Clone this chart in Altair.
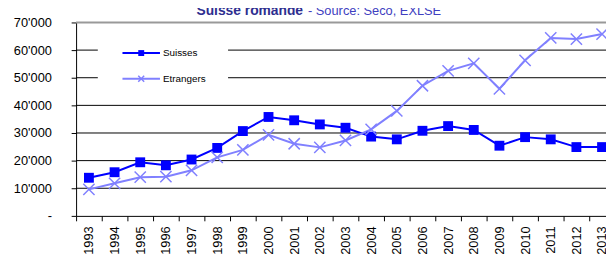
import altair as alt
import pandas as pd

years = list(range(1993, 2014))
suisses = [13800, 15800, 19400, 18300, 20400, 24600, 30700, 35800, 34600, 33100,
           31900, 28700, 27700, 30800, 32500, 31100, 25400, 28500, 27700, 24900, 24900]
etrangers = [9600, 11800, 14000, 14200, 16500, 21200, 23900, 29300, 26100, 24800,
             27300, 31300, 38000, 47100, 52500, 55200, 46000, 56300, 64400, 64000, 65800]
series = ["Suisses", "Etrangers"]
colors = ["#0000FF", "#8080FF"]
y_ticks = [0, 10000, 20000, 30000, 40000, 50000, 60000, 70000]
title_main = "Suisse romande"
title_source = "- Source: Seco, EXLSE"

df = pd.DataFrame({
    "year": years * 2,
    "value": suisses + etrangers,
    "series": [series[0]] * len(years) + [series[1]] * len(years),
})

W, H = 537, 196
STEP = 26
FONT = "Liberation Sans"

x_enc = alt.X(
    "year:Q",
    scale=alt.Scale(domain=[years[0] - 0.5, years[0] - 0.5 + W / STEP], nice=False, zero=False),
    axis=alt.Axis(
        values=[y - 0.5 for y in years],
        labelExpr="format(datum.value + 0.5, 'd')",
        labelOffset=STEP / 2,
        labelAngle=270, labelAlign="right", labelBaseline="middle",
        labelPadding=5, labelFontSize=13, labelFont=FONT, labelColor="black",
        labelOverlap=False, labelFlush=False,
        tickSize=5, tickColor="black", domainColor="black", grid=False, title=None,
    ),
)
y_enc = alt.Y(
    "value:Q",
    scale=alt.Scale(domain=[0, 70000], nice=False),
    axis=alt.Axis(
        values=y_ticks,
        labelExpr="datum.value == 0 ? '-' : replace(format(datum.value, ','), ',', \"'\")",
        labelPadding=20, labelFontSize=13, labelFont=FONT, labelColor="black",
        tickSize=5, tickColor="black", domainColor="black", grid=False,
        title=None,
    ),
)
color_enc = alt.Color("series:N", scale=alt.Scale(domain=series, range=colors), legend=None)

# horizontal gridlines (black) and top border (grey), positioned through the y scale
grid_df = pd.DataFrame({"value": y_ticks[1:-1]})
gridlines = alt.Chart(grid_df).mark_rule(color="black", strokeWidth=1).encode(
    y=y_enc, x=alt.value(0), x2=alt.value(W)
)
top_df = pd.DataFrame({"value": y_ticks[-1:]})
top_border = alt.Chart(top_df).mark_rule(color="#999999", strokeWidth=2).encode(
    y=y_enc, x=alt.value(0), x2=alt.value(W)
)

base = alt.Chart(df)

lines = base.mark_line(strokeWidth=2).encode(x=x_enc, y=y_enc, color=color_enc)

squares = base.transform_filter(alt.datum.series == series[0]).mark_point(
    shape="square", filled=True, size=100, opacity=1
).encode(x=x_enc, y=y_enc, color=color_enc)

crosses = base.transform_filter(alt.datum.series == series[1]).mark_point(
    shape="M-1,-1L1,1M-1,1L1,-1", filled=False, size=130, strokeWidth=1.5, opacity=1
).encode(x=x_enc, y=y_enc, color=color_enc)

# legend (white box with a line + marker + label per series)
leg_layers = [
    alt.Chart(pd.DataFrame({"s": [0]})).mark_rect(color="white").encode(
        x=alt.value(22), x2=alt.value(154), y=alt.value(10), y2=alt.value(76)
    )
]
leg_shapes = ["square", "M-1,-1L1,1M-1,1L1,-1"]
leg_sizes = [36, 36]
for i, (name, col) in enumerate(zip(series, colors)):
    ly = 31 + 26 * i
    d = pd.DataFrame({"series": [name]})
    leg_layers.append(
        alt.Chart(d).mark_rule(color=col, strokeWidth=2).encode(
            x=alt.value(47), x2=alt.value(85), y=alt.value(ly)
        )
    )
    leg_layers.append(
        alt.Chart(d).mark_point(
            shape=leg_shapes[i], filled=(i == 0), size=leg_sizes[i], color=col,
            strokeWidth=1.5, opacity=1
        ).encode(x=alt.value(66), y=alt.value(ly))
    )
    leg_layers.append(
        alt.Chart(d).mark_text(
            font=FONT, fontSize=10, color="black", align="left", baseline="middle"
        ).encode(text="series:N", x=alt.value(88), y=alt.value(ly))
    )

t1 = alt.Chart(pd.DataFrame({"t": [title_main]})).mark_text(
    font=FONT, fontSize=14, fontWeight="bold", color="#2E2E8F", align="right", baseline="alphabetic"
).encode(text="t:N", x=alt.value(230), y=alt.value(-8))
t2 = alt.Chart(pd.DataFrame({"t": [title_source]})).mark_text(
    font=FONT, fontSize=13, color="#4040C0", align="left", baseline="alphabetic"
).encode(text="t:N", x=alt.value(235), y=alt.value(-8))

chart = alt.layer(gridlines, top_border, lines, squares, crosses, *leg_layers, t1, t2).properties(
    width=W, height=H,
    autosize=alt.AutoSizeParams(type="none"),
    padding={"left": 69, "top": 13, "right": 0, "bottom": 40},
).configure_view(strokeWidth=0)

chart.save("out.html", embed_options={"renderer": "svg", "actions": False})
